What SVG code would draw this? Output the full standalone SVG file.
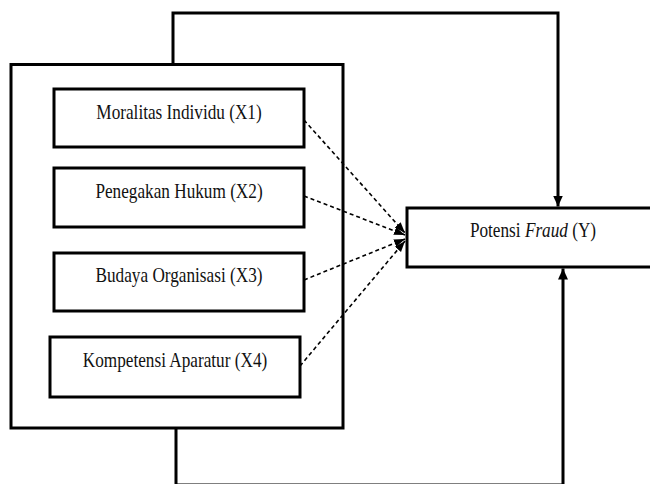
<svg xmlns="http://www.w3.org/2000/svg" width="650" height="484" viewBox="0 0 650 484">
<style>
.box{fill:#fff;stroke:#000;stroke-width:3}
.lbl{font-family:"Liberation Serif","Times New Roman",serif;font-size:21px;fill:#111;text-anchor:middle}
.conn{fill:none;stroke:#000;stroke-width:3}
.dash{fill:none;stroke:#000;stroke-width:1.6;stroke-dasharray:4 3}
</style>
<defs>
<marker id="ah" markerUnits="userSpaceOnUse" markerWidth="12" markerHeight="10" refX="11" refY="5" orient="auto">
<path d="M0,0 L11,5 L0,10 Z" fill="#000"/>
</marker>
<marker id="ahs" markerUnits="userSpaceOnUse" markerWidth="12" markerHeight="10" refX="11" refY="5" orient="auto">
<path d="M0,1 L11,5 L0,9 Z" fill="#000"/>
</marker>
</defs>
<g id="outer"><rect class="box" x="11" y="64.5" width="332" height="363.5"/></g>
<g id="x1"><rect class="box" x="54" y="89" width="250" height="58"/><text class="lbl" transform="translate(179,119) scale(0.82,1)">Moralitas Individu (X1)</text></g>
<g id="x2"><rect class="box" x="54" y="168" width="250" height="59"/><text class="lbl" transform="translate(179,198) scale(0.82,1)">Penegakan Hukum (X2)</text></g>
<g id="x3"><rect class="box" x="54" y="253" width="250" height="58"/><text class="lbl" transform="translate(179,282) scale(0.82,1)">Budaya Organisasi (X3)</text></g>
<g id="x4"><rect class="box" x="50" y="337" width="250" height="60"/><text class="lbl" transform="translate(175,367) scale(0.82,1)">Kompetensi Aparatur (X4)</text></g>
<g id="y"><rect class="box" x="407" y="208" width="250" height="59"/><text class="lbl" transform="translate(533,237) scale(0.82,1)">Potensi <tspan font-style="italic">Fraud</tspan> (Y)</text></g>
<g id="connectors">
<path class="conn" d="M173,64 V13 H558 V206.5" marker-end="url(#ah)"/>
<path class="conn" d="M176,428 V485 H563 V268.5" marker-end="url(#ah)"/>
<path class="dash" d="M304,120 L405,233" marker-end="url(#ahs)"/>
<path class="dash" d="M304,196 L405,235" marker-end="url(#ahs)"/>
<path class="dash" d="M304,280 L405,239" marker-end="url(#ahs)"/>
<path class="dash" d="M300,366 L405,241" marker-end="url(#ahs)"/>
</g>
</svg>
